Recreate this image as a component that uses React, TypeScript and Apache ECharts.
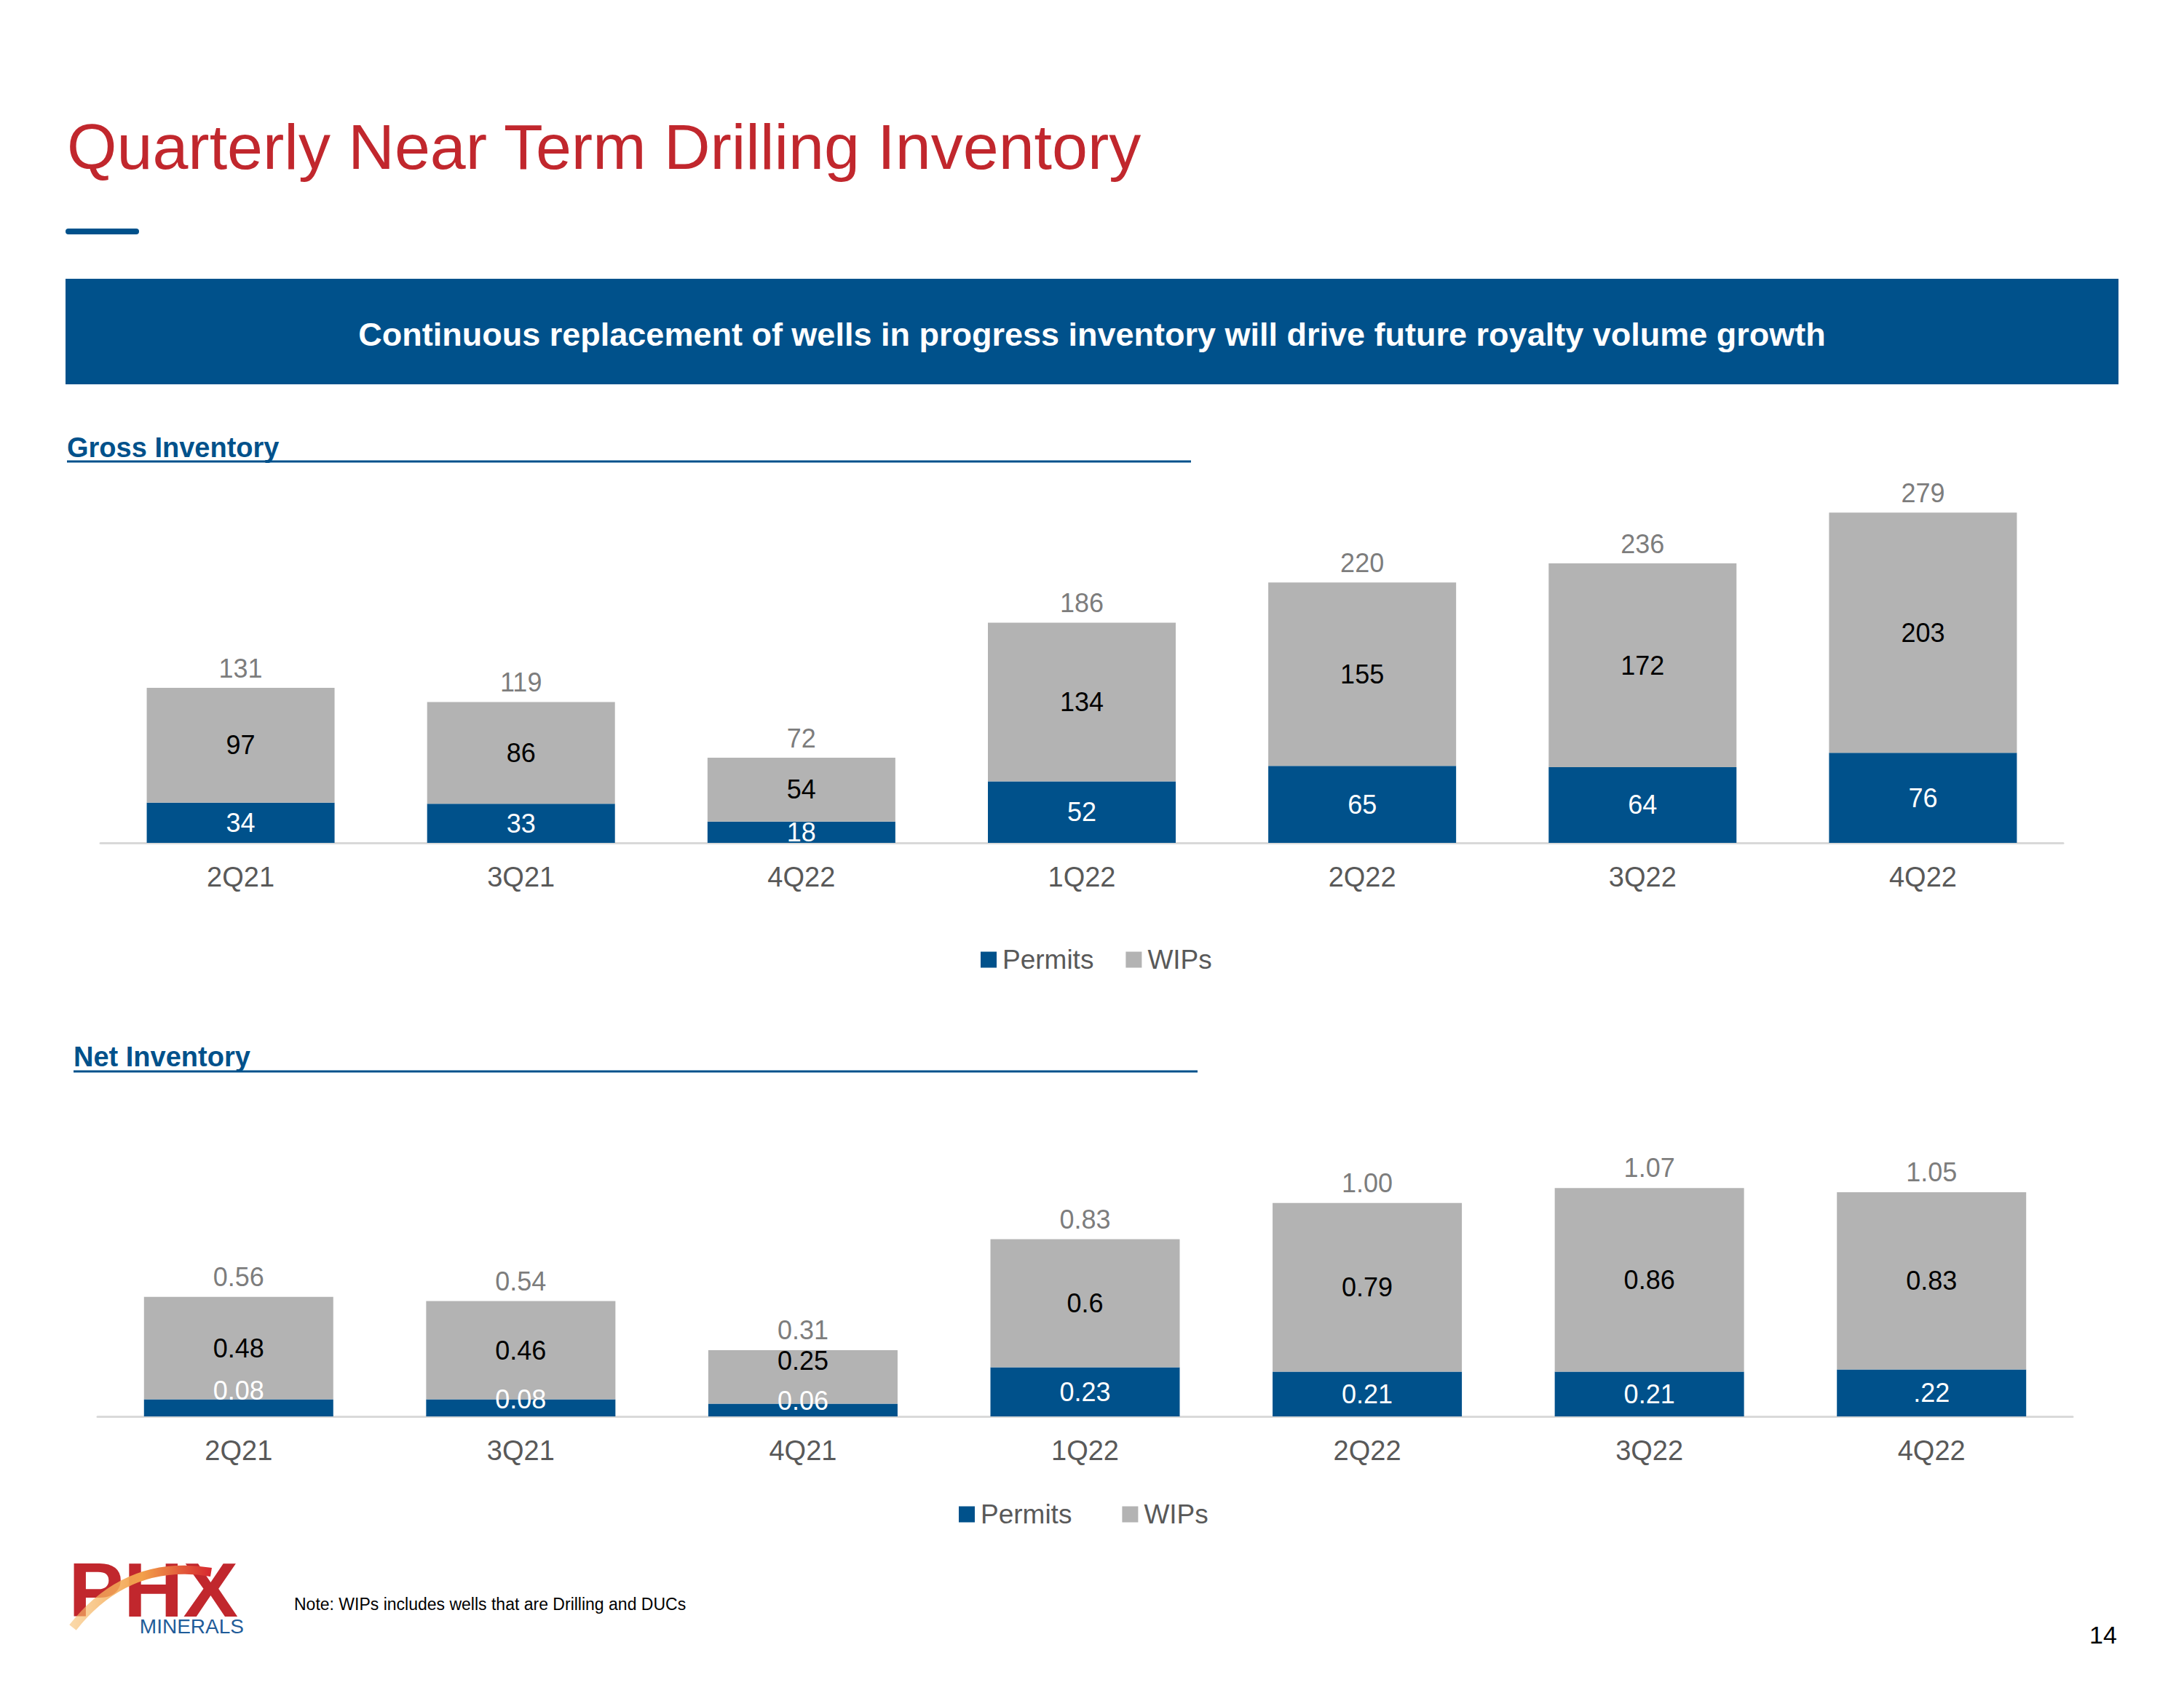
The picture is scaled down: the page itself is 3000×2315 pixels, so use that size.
import React, { useEffect, useRef } from "react";
import * as echarts from "echarts";

// ---------- data ----------
const grossCategories = ["2Q21", "3Q21", "4Q22", "1Q22", "2Q22", "3Q22", "4Q22"];
const grossPermits = [34, 33, 18, 52, 65, 64, 76];
const grossWIPs = [97, 86, 54, 134, 155, 172, 203];
const grossTotals = [131, 119, 72, 186, 220, 236, 279];

const netCategories = ["2Q21", "3Q21", "4Q21", "1Q22", "2Q22", "3Q22", "4Q22"];
const netPermits = [0.08, 0.08, 0.06, 0.23, 0.21, 0.21, 0.22];
const netPermitLabels = ["0.08", "0.08", "0.06", "0.23", "0.21", "0.21", ".22"];
const netWIPs = [0.48, 0.46, 0.25, 0.6, 0.79, 0.86, 0.83];
const netTotals = [0.56, 0.54, 0.31, 0.83, 1.0, 1.07, 1.05];

const legendNames = ["Permits", "WIPs"];

// ---------- styles ----------
const FONT = "'Liberation Sans', Arial, Helvetica, sans-serif";
const BLUE = "#00518B";
const GRAY = "#B3B3B3";
const RED = "#C1272D";
const TEXT_GRAY = "#595959";

// label nudges for crowded small segments (net chart)
const netPermitLabelShift = [-24, -12, -13, 0, 0, 0, 0];
const netWipLabelShift = [0, 0, -22, 0, 0, 0, 0];

function buildOption() {
  const axisCommon = {
    type: "category" as const,
    axisLine: { show: true, lineStyle: { color: "#D9D9D9", width: 3 } },
    axisTick: { show: false },
    axisLabel: { color: TEXT_GRAY, fontSize: 38, margin: 28, fontFamily: FONT },
    splitLine: { show: false },
  };
  const yCommon = {
    type: "value" as const,
    show: false,
    min: 0,
    splitLine: { show: false },
  };
  const labelBase = { show: true, fontSize: 36, fontFamily: FONT };

  return {
    animation: false,
    backgroundColor: "#ffffff",
    textStyle: { fontFamily: FONT },
    grid: [
      { left: 138, top: 670, width: 2696, height: 488, containLabel: false },
      { left: 134, top: 1594, width: 2713, height: 352, containLabel: false },
    ],
    xAxis: [
      { ...axisCommon, gridIndex: 0, data: grossCategories },
      { ...axisCommon, gridIndex: 1, data: netCategories },
    ],
    yAxis: [
      { ...yCommon, gridIndex: 0, max: 300 },
      { ...yCommon, gridIndex: 1, max: 1.2 },
    ],
    legend: [
      {
        data: legendNames,
        left: 1342,
        top: 1295,
        itemWidth: 22,
        itemHeight: 22,
        itemGap: 44,
        icon: "rect",
        textStyle: { color: TEXT_GRAY, fontSize: 37, fontFamily: FONT, padding: [0, 0, 0, 3] },
      },
      {
        data: legendNames,
        left: 1312,
        top: 2057,
        itemWidth: 22,
        itemHeight: 22,
        itemGap: 69,
        icon: "rect",
        textStyle: { color: TEXT_GRAY, fontSize: 37, fontFamily: FONT, padding: [0, 0, 0, 3] },
      },
    ],
    series: [
      {
        name: "Permits",
        type: "bar",
        xAxisIndex: 0,
        yAxisIndex: 0,
        stack: "gross",
        barWidth: 258,
        itemStyle: { color: BLUE },
        label: { ...labelBase, position: "inside", color: "#ffffff" },
        data: grossPermits,
      },
      {
        name: "WIPs",
        type: "bar",
        xAxisIndex: 0,
        yAxisIndex: 0,
        stack: "gross",
        barWidth: 258,
        itemStyle: { color: GRAY },
        label: { ...labelBase, position: "inside", color: "#000000" },
        data: grossWIPs,
      },
      {
        name: "Gross Total",
        type: "scatter",
        xAxisIndex: 0,
        yAxisIndex: 0,
        symbolSize: 1,
        silent: true,
        itemStyle: { color: "rgba(0,0,0,0)" },
        label: { ...labelBase, position: "top", distance: 8, color: TEXT_GRAY },
        data: grossTotals,
      },
      {
        name: "Permits",
        type: "bar",
        xAxisIndex: 1,
        yAxisIndex: 1,
        stack: "net",
        barWidth: 260,
        itemStyle: { color: BLUE },
        label: {
          ...labelBase,
          position: "inside",
          color: "#ffffff",
          formatter: (p: any) => netPermitLabels[p.dataIndex],
        },
        data: netPermits.map((v, i) => ({ value: v, label: { offset: [0, netPermitLabelShift[i]] } })),
      },
      {
        name: "WIPs",
        type: "bar",
        xAxisIndex: 1,
        yAxisIndex: 1,
        stack: "net",
        barWidth: 260,
        itemStyle: { color: GRAY },
        label: { ...labelBase, position: "inside", color: "#000000" },
        data: netWIPs.map((v, i) => ({ value: v, label: { offset: [0, netWipLabelShift[i]] } })),
      },
      {
        name: "Net Total",
        type: "scatter",
        xAxisIndex: 1,
        yAxisIndex: 1,
        symbolSize: 1,
        silent: true,
        itemStyle: { color: "rgba(0,0,0,0)" },
        label: {
          ...labelBase,
          position: "top",
          distance: 9,
          color: TEXT_GRAY,
          formatter: (p: any) => Number(p.value).toFixed(2),
        },
        data: netTotals,
      },
    ],
    graphic: [
      {
        type: "text",
        x: 92,
        y: 201,
        style: {
          text: "Quarterly Near Term Drilling Inventory",
          fill: RED,
          fontSize: 88,
          fontFamily: FONT,
          align: "left",
          verticalAlign: "middle",
        },
      },
      {
        type: "line",
        shape: { x1: 94, y1: 318, x2: 187, y2: 318 },
        style: { stroke: BLUE, lineWidth: 8, lineCap: "round" },
      },
      {
        type: "rect",
        shape: { x: 90, y: 383, width: 2820, height: 145 },
        style: { fill: BLUE },
      },
      {
        type: "text",
        x: 1500,
        y: 459,
        style: {
          text: "Continuous replacement of wells in progress inventory will drive future royalty volume growth",
          fill: "#ffffff",
          fontSize: 45,
          fontWeight: "bold",
          fontFamily: FONT,
          align: "center",
          verticalAlign: "middle",
        },
      },
      {
        type: "text",
        x: 92,
        y: 615,
        style: {
          text: "Gross Inventory",
          fill: BLUE,
          fontSize: 38,
          fontWeight: "bold",
          fontFamily: FONT,
          align: "left",
          verticalAlign: "middle",
        },
      },
      {
        type: "line",
        shape: { x1: 92, y1: 634, x2: 1636, y2: 634 },
        style: { stroke: BLUE, lineWidth: 3 },
      },
      {
        type: "text",
        x: 101,
        y: 1452,
        style: {
          text: "Net Inventory",
          fill: BLUE,
          fontSize: 38,
          fontWeight: "bold",
          fontFamily: FONT,
          align: "left",
          verticalAlign: "middle",
        },
      },
      {
        type: "line",
        shape: { x1: 101, y1: 1472, x2: 1645, y2: 1472 },
        style: { stroke: BLUE, lineWidth: 3 },
      },
      // logo
      {
        type: "text",
        x: 94,
        y: 2184,
        scaleX: 1.07,
        style: {
          text: "PHX",
          fill: RED,
          fontSize: 106,
          fontWeight: "bold",
          fontFamily: FONT,
          align: "left",
          verticalAlign: "middle",
        },
      },
      {
        type: "bezierCurve",
        shape: { x1: 100, y1: 2236, x2: 290, y2: 2160, cpx1: 160, cpy1: 2160, cpx2: 230, cpy2: 2150 },
        style: {
          stroke: new echarts.graphic.LinearGradient(0, 0, 1, 0, [
            { offset: 0, color: "rgba(247,190,110,0.6)" },
            { offset: 0.5, color: "#F2A04A" },
            { offset: 1, color: "#D7282F" },
          ]),
          lineWidth: 12,
          fill: "none",
        },
      },
      {
        type: "text",
        x: 335,
        y: 2234,
        style: {
          text: "MINERALS",
          fill: "#1F5C99",
          fontSize: 28,
          fontFamily: FONT,
          align: "right",
          verticalAlign: "middle",
        },
      },
      {
        type: "text",
        x: 404,
        y: 2204,
        style: {
          text: "Note: WIPs includes wells that are Drilling and DUCs",
          fill: "#000000",
          fontSize: 23,
          fontFamily: FONT,
          align: "left",
          verticalAlign: "middle",
        },
      },
      {
        type: "text",
        x: 2889,
        y: 2246,
        style: {
          text: "14",
          fill: "#000000",
          fontSize: 34,
          fontFamily: FONT,
          align: "center",
          verticalAlign: "middle",
        },
      },
    ],
  };
}

export default function App() {
  const ref = useRef<HTMLDivElement>(null);
  useEffect(() => {
    document.body.style.margin = "0";
    const chart = echarts.init(ref.current!, null, { renderer: "svg" });
    chart.setOption(buildOption() as any);
    return () => chart.dispose();
  }, []);
  return <div ref={ref} style={{ width: 3000, height: 2315, background: "#ffffff" }} />;
}
